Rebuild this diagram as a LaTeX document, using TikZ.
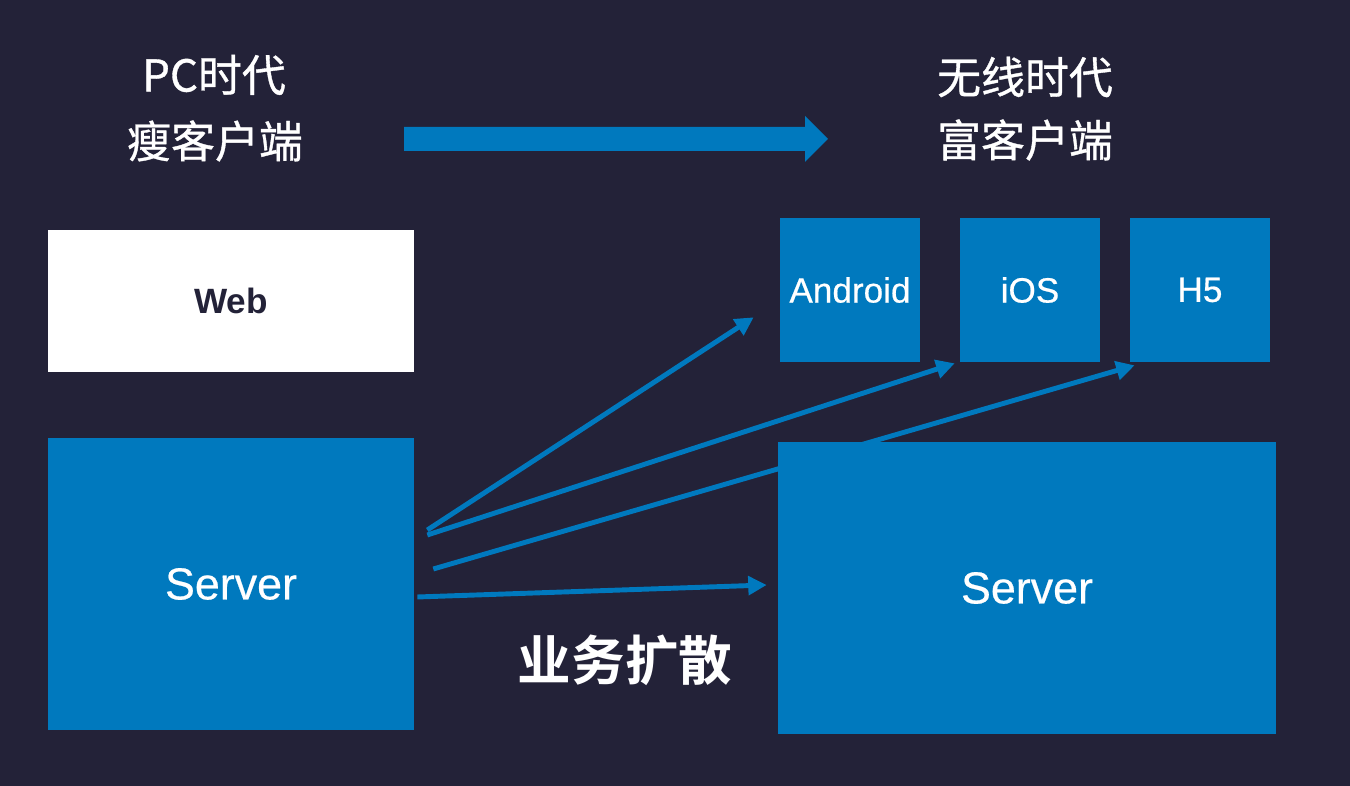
\documentclass[tikz,border=0pt]{standalone}
\usepackage{fontspec}
\setmainfont{Liberation Sans}
\newfontfamily\cjk{Noto Sans CJK SC}[BoldFont={Noto Sans CJK SC Bold}]
\newfontfamily\cjkmid{Noto Sans CJK SC}[FakeBold=0.8]
\newfontfamily\sansmid{Liberation Sans}[FakeBold=0.5]
\usetikzlibrary{arrows.meta,calc}
\definecolor{navy}{HTML}{232238}
\definecolor{tileblue}{HTML}{0079BE}
\pgfdeclarelayer{bg}
\pgfdeclarelayer{links}
\pgfsetlayers{bg,links,main}
\tikzset{
  tile/.style={rectangle, fill=tileblue, text=white, inner sep=0pt, font=\sansmid\fontsize{20}{24}\selectfont},
  title/.style={text=white, font=\cjkmid\fontsize{25}{30}\selectfont},
  link/.style={tileblue, line width=2.8pt, -{Triangle[length=10.5pt,width=10.5pt]}},
}
\begin{document}
\begin{tikzpicture}[x=0.02cm, y=-0.02cm]
\begin{pgfonlayer}{bg}
\fill[navy] (0,0) rectangle (1350,786);
\end{pgfonlayer}
% titles
\node[title] (pc) at (214,75) {PC时代};
\node[title] (thin) at (215,141) {瘦客户端};
\node[title] (wl) at (1025,77) {无线时代};
\node[title] (rich) at (1025,140) {富客户端};
\fill[tileblue] (404,127) -- ++(401,0) -- ++(0,-11) -- ++(23,23) -- ++(-23,23) -- ++(0,-11) -- ++(-401,0) -- cycle;
% left side
\node[tile, fill=white, text=navy, font=\bfseries\fontsize{20}{24}\selectfont,
  minimum width=7.32cm, minimum height=2.84cm] (web) at (231,301) {Web};
\node[tile, font=\sansmid\fontsize{25.5}{30}\selectfont,
  minimum width=7.32cm, minimum height=5.84cm] (srvL) at (231,584) {Server};
% right side
\node[tile, minimum width=2.8cm, minimum height=2.88cm] (android) at (850,290) {Android};
\node[tile, minimum width=2.8cm, minimum height=2.88cm] (ios) at (1030,290) {iOS};
\node[tile, minimum width=2.8cm, minimum height=2.88cm] (h5) at (1200,290) {H5};
\node[tile, font=\sansmid\fontsize{25.5}{30}\selectfont,
  minimum width=9.96cm, minimum height=5.84cm] (srvR) at (1027,588) {Server};
\node[text=white, font=\cjk\bfseries\fontsize{30.5}{36}\selectfont] (spread) at (625,660) {业务扩散};
% links
\coordinate (o1) at ($(srvL.east)+(13,-54)$);
\coordinate (o2) at ($(srvL.east)+(13,-49)$);
\coordinate (o3) at ($(srvL.east)+(19,-15)$);
\coordinate (o4) at ($(srvL.east)+(3,13)$);
\begin{pgfonlayer}{links}
\draw[link] (o1) -- ($(android.south west)+(-26,-45)$);
\draw[link] (o2) -- ($(ios.south west)+(-5,1)$);
\draw[link] (o3) -- ($(h5.south west)+(5,3)$);
\draw[link] (o4) -- ($(srvR.west)+(-11,-3)$);
\end{pgfonlayer}
\end{tikzpicture}
\end{document}
